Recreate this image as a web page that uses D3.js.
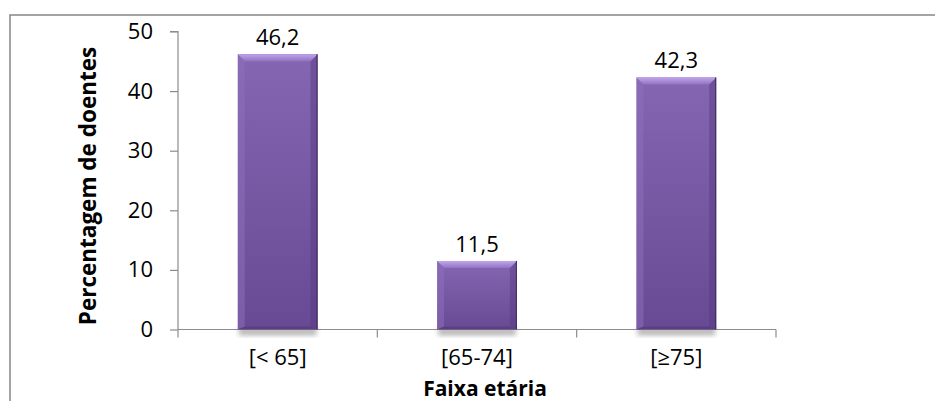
<!DOCTYPE html>
<html>
<head>
<meta charset="utf-8">
<script src="https://cdn.jsdelivr.net/npm/d3@7"></script>
<style>
  html, body { margin: 0; padding: 0; background: #fff; }
  svg { display: block; }
  text { font-family: "Open Sans", "Noto Sans", sans-serif; fill: #000; }
</style>
</head>
<body>
<svg id="chart" width="935" height="401"></svg>
<script>
// Age groups and share of patients (%)
const categories = ["[< 65]", "[65-74]", "[\u226575]"];
const values = [46.2, 11.5, 42.3];
const valueLabels = ["46,2", "11,5", "42,3"];
const yTicks = [0, 10, 20, 30, 40, 50];
const xTitle = "Faixa etária";
const yTitle = "Percentagem de doentes";

const svg = d3.select("#chart");
const W = 935, H = 401;
const plot = { left: 178, right: 776, top: 31.5, bottom: 329.5 };

// outer frame (runs off the right and bottom edges)
svg.append("rect")
  .attr("x", 10).attr("y", 15)
  .attr("width", W).attr("height", H)
  .attr("fill", "none").attr("stroke", "#878787").attr("stroke-width", 1.5);

const x = d3.scaleBand().domain(categories).range([plot.left, plot.right]).padding(0);
const y = d3.scaleLinear().domain([0, 50]).range([plot.bottom, plot.top]);
const barW = x.bandwidth() * 0.4;

const defs = svg.append("defs");
const face = defs.append("linearGradient").attr("id", "face")
  .attr("x1", 0).attr("y1", 0).attr("x2", 0).attr("y2", 1);
face.append("stop").attr("offset", "0%").attr("stop-color", "#8566b2");
face.append("stop").attr("offset", "100%").attr("stop-color", "#684994");

const topBevel = defs.append("linearGradient").attr("id", "topBevel")
  .attr("x1", 0).attr("y1", 0).attr("x2", 0).attr("y2", 1);
topBevel.append("stop").attr("offset", "0%").attr("stop-color", "#c0a6ec");
topBevel.append("stop").attr("offset", "100%").attr("stop-color", "#9273c2");

defs.append("filter").attr("id", "shadow")
  .attr("x", "-20%").attr("y", "-20%").attr("width", "140%").attr("height", "140%")
  .append("feGaussianBlur").attr("stdDeviation", 2.5);

// y axis
const yAxis = d3.axisLeft(y).tickValues(yTicks).tickSize(8).tickPadding(17);
const gy = svg.append("g").attr("transform", `translate(${plot.left},0)`).call(yAxis);
gy.select(".domain").attr("stroke", "#8c8c8c").attr("stroke-width", 1.2)
  .attr("d", `M-8,${plot.top}H0V${plot.bottom}`);
gy.selectAll(".tick line").attr("stroke", "#8c8c8c").attr("stroke-width", 1.2);
gy.selectAll(".tick text").attr("font-size", 22).attr("fill", "#000")
  .style("font-family", "'Open Sans', sans-serif");

// x axis: ticks on category boundaries
svg.append("line")
  .attr("x1", plot.left).attr("x2", plot.right)
  .attr("y1", plot.bottom).attr("y2", plot.bottom)
  .attr("stroke", "#8c8c8c").attr("stroke-width", 1.2);
const bounds = categories.map(c => x(c)).concat([x(categories[categories.length - 1]) + x.bandwidth()]);
svg.selectAll(".xtick").data(bounds).join("line")
  .attr("x1", d => d).attr("x2", d => d)
  .attr("y1", plot.bottom).attr("y2", plot.bottom + 8)
  .attr("stroke", "#8c8c8c").attr("stroke-width", 1.2);

// bars with bevelled edges
const bars = svg.selectAll(".bar").data(categories.map((c, i) => ({ c, v: values[i], label: valueLabels[i] })))
  .join("g").attr("class", "bar");

bars.each(function(d) {
  const g = d3.select(this);
  const x0 = x(d.c) + (x.bandwidth() - barW) / 2, x1 = x0 + barW;
  const y0 = y(d.v), y1 = y(0);
  const b = 7;
  g.append("rect").attr("x", x0 + 1).attr("y", y1 - 2).attr("width", barW - 2).attr("height", 8)
    .attr("fill", "#9a9a9a").attr("opacity", 0.7).attr("filter", "url(#shadow)");
  g.append("rect").attr("x", x0).attr("y", y0).attr("width", barW).attr("height", y1 - y0)
    .attr("fill", "url(#face)");
  // left bevel
  g.append("path").attr("d", `M${x0},${y0}L${x0 + b},${y0 + b}L${x0 + b},${y1 - 3}L${x0},${y1}Z`)
    .attr("fill", "#8e70bb").attr("opacity", 0.5);
  // right bevel
  g.append("path").attr("d", `M${x1},${y0}L${x1 - b},${y0 + b}L${x1 - b},${y1 - 3}L${x1},${y1}Z`)
    .attr("fill", "#553a7c").attr("opacity", 0.45);
  // bottom bevel
  g.append("path").attr("d", `M${x0},${y1}L${x0 + b},${y1 - 3}L${x1 - b},${y1 - 3}L${x1},${y1}Z`)
    .attr("fill", "#4e3572").attr("opacity", 0.5);
  // top bevel
  g.append("path").attr("d", `M${x0},${y0}L${x1},${y0}L${x1 - b},${y0 + b}L${x0 + b},${y0 + b}Z`)
    .attr("fill", "url(#topBevel)");
  g.append("line").attr("x1", x1 - 0.5).attr("x2", x1 - 0.5).attr("y1", y0).attr("y2", y1)
    .attr("stroke", "#402a60").attr("stroke-width", 1);
  g.append("text").attr("x", (x0 + x1) / 2).attr("y", y0 - 9)
    .attr("text-anchor", "middle").attr("font-size", 22).text(d.label);
});

// category labels
svg.selectAll(".cat").data(categories).join("text")
  .attr("x", d => x(d) + x.bandwidth() / 2).attr("y", 365)
  .attr("text-anchor", "middle").attr("font-size", 22).text(d => d);

// axis titles
svg.append("text").attr("x", 485).attr("y", 396)
  .attr("text-anchor", "middle").attr("font-size", 21).attr("font-weight", "bold").text(xTitle);
svg.append("text").attr("transform", `translate(96,186) rotate(-90)`)
  .attr("text-anchor", "middle").attr("font-size", 22.5).attr("font-weight", "bold").text(yTitle);
</script>
</body>
</html>
